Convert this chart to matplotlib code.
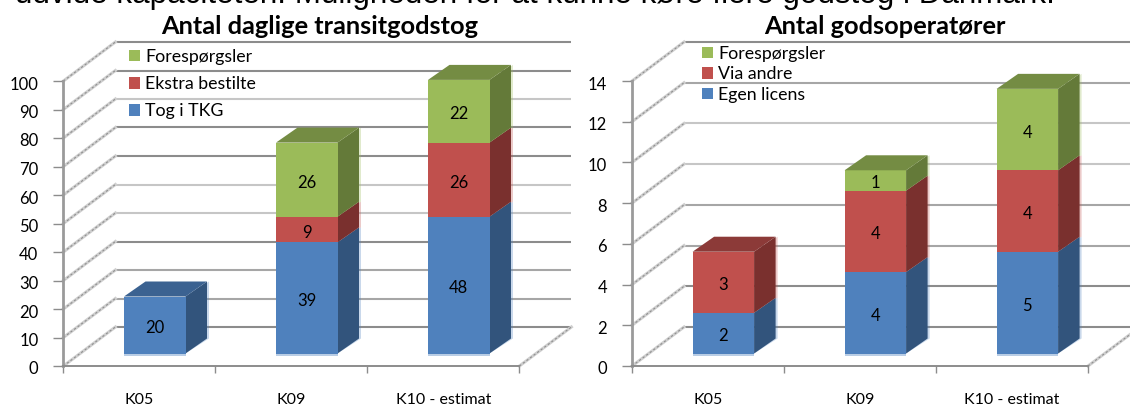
"""Two stacked pseudo-3D column charts: daily transit freight trains and freight operators."""

import matplotlib

matplotlib.use("Agg")
import matplotlib.pyplot as plt
import matplotlib.transforms as mtrans
import numpy as np
from matplotlib.patches import Polygon

FIG_W, FIG_H = 1130, 405

categories = ["K05", "K09", "K10 - estimat"]

heading = "udvide kapaciteten. Muligheden for at kunne køre flere godstog i Danmark."

# Antal daglige transitgodstog
trains_title = "Antal daglige transitgodstog"
trains_labels = ["Tog i TKG", "Ekstra bestilte", "Forespørgsler"]
trains_tkg = [20, 39, 48]
trains_extra = [0, 9, 26]
trains_requests = [0, 26, 22]
trains_ticks = [0, 10, 20, 30, 40, 50, 60, 70, 80, 90, 100]

# Antal godsoperatører
operators_title = "Antal godsoperatører"
operators_labels = ["Egen licens", "Via andre", "Forespørgsler"]
operators_own = [2, 4, 5]
operators_other = [3, 4, 4]
operators_requests = [0, 1, 4]
operators_ticks = [0, 2, 4, 6, 8, 10, 12, 14]

# front, side and top shades per series
FRONT = ["#4f81bd", "#c0504d", "#9bbb59"]
SIDE = ["#32547c", "#7a302e", "#647a39"]
TOP = ["#3b6291", "#8c3a38", "#748c43"]

DARK = "#8c8c8c"
MID = "#a6a6a6"
LIGHT = "#c6c6c6"

FONT = "Lato"
TEXT_PT = 12


def draw_chart(axes_left, title, title_x, labels, stacks, ticks, grid_colors, legend_xy, legend_gap):
    """Draw one chart; axes_left is the pixel position of the front-left corner."""
    ax = fig.add_axes([axes_left / FIG_W, (FIG_H - 366) / FIG_H, 456 / FIG_W, 285 / FIG_H])
    ymax = ticks[-1]
    ax.set_xlim(0, 3)
    ax.set_ylim(0, ymax)
    ax.patch.set_visible(False)

    # pixel distances turned into data units
    px_x = 3 / 456
    px_y = ymax / 285
    wall_dx, wall_dy = 52 * px_x, 39 * px_y
    bar_left, bar_w = 60.6 * px_x, 61.5 * px_x
    bar_dx, bar_dy = 21.5 * px_x, 15 * px_y
    lift = 12.5 * px_y

    # back wall grid and the slanted lines on the side wall
    for tick, color in zip(ticks, grid_colors):
        ax.plot([wall_dx, 3 + wall_dx], [tick + wall_dy] * 2, color=color, lw=1.5,
                clip_on=False, zorder=1, solid_capstyle="butt")
        ax.plot([0, wall_dx], [tick, tick + wall_dy], color="#cfcfcf", lw=2.2,
                clip_on=False, zorder=1)
        ax.plot([0, wall_dx], [tick, tick + wall_dy], color="#8f8f8f", lw=0.8,
                ls=(0, (2, 2)), clip_on=False, zorder=1)
    ax.plot([3, 3 + wall_dx], [0, wall_dy], color="#cfcfcf", lw=2.2, clip_on=False, zorder=1)
    ax.plot([3, 3 + wall_dx], [0, wall_dy], color="#8f8f8f", lw=0.8,
            ls=(0, (2, 2)), clip_on=False, zorder=1)

    x = np.arange(3) + bar_left
    bottom = np.zeros(3)
    handles = []
    for s, values in enumerate(stacks):
        values = np.array(values, dtype=float)
        base = bottom + lift
        bars = ax.bar(x, values, bar_w, bottom=base, align="edge", color=FRONT[s],
                      label=labels[s], zorder=4, clip_on=False)
        handles.append(bars)
        for i, v in enumerate(values):
            if v == 0:
                continue
            x1 = x[i] + bar_w
            y0, y1 = base[i], base[i] + v
            # pale halo next to the side face
            ax.add_patch(Polygon(
                [(x1, y0), (x1 + bar_dx + 2 * px_x, y0 + bar_dy),
                 (x1 + bar_dx + 2 * px_x, y1 + bar_dy), (x1, y1)],
                facecolor=FRONT[s], alpha=0.3, lw=0, zorder=3, clip_on=False))
            ax.add_patch(Polygon(
                [(x1, y0), (x1 + bar_dx, y0 + bar_dy), (x1 + bar_dx, y1 + bar_dy), (x1, y1)],
                facecolor=SIDE[s], lw=0, zorder=3.5 + s * 0.1, clip_on=False))
            ax.text(x[i] + bar_w / 2, y0 + v / 2 - 3 * px_y, str(int(v)), ha="center", va="center",
                    fontsize=TEXT_PT, family=FONT, color="black", zorder=6)
        bottom = bottom + values

    # top faces take the colour of the highest non-empty segment
    for i in range(3):
        top_series = max(s for s, values in enumerate(stacks) if values[i] > 0)
        t = bottom[i] + lift
        ax.add_patch(Polygon(
            [(x[i], t), (x[i] + bar_w, t), (x[i] + bar_w + bar_dx, t + bar_dy), (x[i] + bar_dx, t + bar_dy)],
            facecolor=TOP[top_series], lw=0, zorder=5, clip_on=False))
        # light strip under the base of each column
        ax.bar(x[i], 2.5 * px_y, bar_w, bottom=lift - 2.5 * px_y, align="edge",
               color="#b9cde5", zorder=4)

    # axes
    ax.set_xticks([0, 1, 2, 3])
    ax.set_xticklabels([])
    ax.set_yticks(ticks)
    ax.set_yticklabels([str(t) for t in ticks], fontsize=TEXT_PT, family=FONT)
    ax.tick_params(axis="y", length=7, width=1, color="#8c8c8c", pad=11)
    ax.tick_params(axis="x", length=5, width=1, color="#8c8c8c")
    nudge = mtrans.ScaledTranslation(0, -2 / 100, fig.dpi_scale_trans)
    for label in ax.get_yticklabels():
        label.set_transform(label.get_transform() + nudge)
    for name in ["top", "right"]:
        ax.spines[name].set_visible(False)
    ax.spines["left"].set_color("#9a9a9a")
    ax.spines["left"].set_linewidth(2.0)
    ax.spines["bottom"].set_color("#8c8c8c")
    ax.spines["bottom"].set_linewidth(1.4)

    for i, name in enumerate(categories):
        fig.text((axes_left + 76 + 152 * i) / FIG_W, 1 - 399.5 / FIG_H, name, ha="center", va="center",
                 fontsize=TEXT_PT - 0.5, family=FONT, color="black")

    fig.text(title_x / FIG_W, 1 - 27 / FIG_H, title, ha="center", va="center",
             fontsize=18.3, fontweight="bold", family=FONT, color="black")

    ax.legend(handles[::-1], labels[::-1], loc="upper left",
              bbox_to_anchor=(legend_xy[0] / FIG_W, 1 - legend_xy[1] / FIG_H),
              bbox_transform=fig.transFigure, frameon=False,
              prop={"family": FONT, "size": 12.8}, handlelength=0.61, handleheight=0.61,
              handletextpad=0.31, labelspacing=legend_gap, borderpad=0, borderaxespad=0)


fig = plt.figure(figsize=(FIG_W / 100, FIG_H / 100), dpi=100, facecolor="white")

draw_chart(
    63.4, trains_title, 320, trains_labels,
    [trains_tkg, trains_extra, trains_requests], trains_ticks,
    [DARK, MID, MID, DARK, LIGHT, LIGHT, DARK, DARK, LIGHT, DARK, DARK],
    (129, 49), 0.63,
)
draw_chart(
    632, operators_title, 885, operators_labels,
    [operators_own, operators_other, operators_requests], operators_ticks,
    [DARK, DARK, MID, MID, LIGHT, LIGHT, MID, DARK],
    (702, 46), 0.245,
)

fig.text(15 / FIG_W, 1 - 3.5 / FIG_H, heading, ha="left", va="baseline",
         fontsize=22.6, family="Liberation Sans", color="black")

fig.savefig("out.png", dpi=100)
